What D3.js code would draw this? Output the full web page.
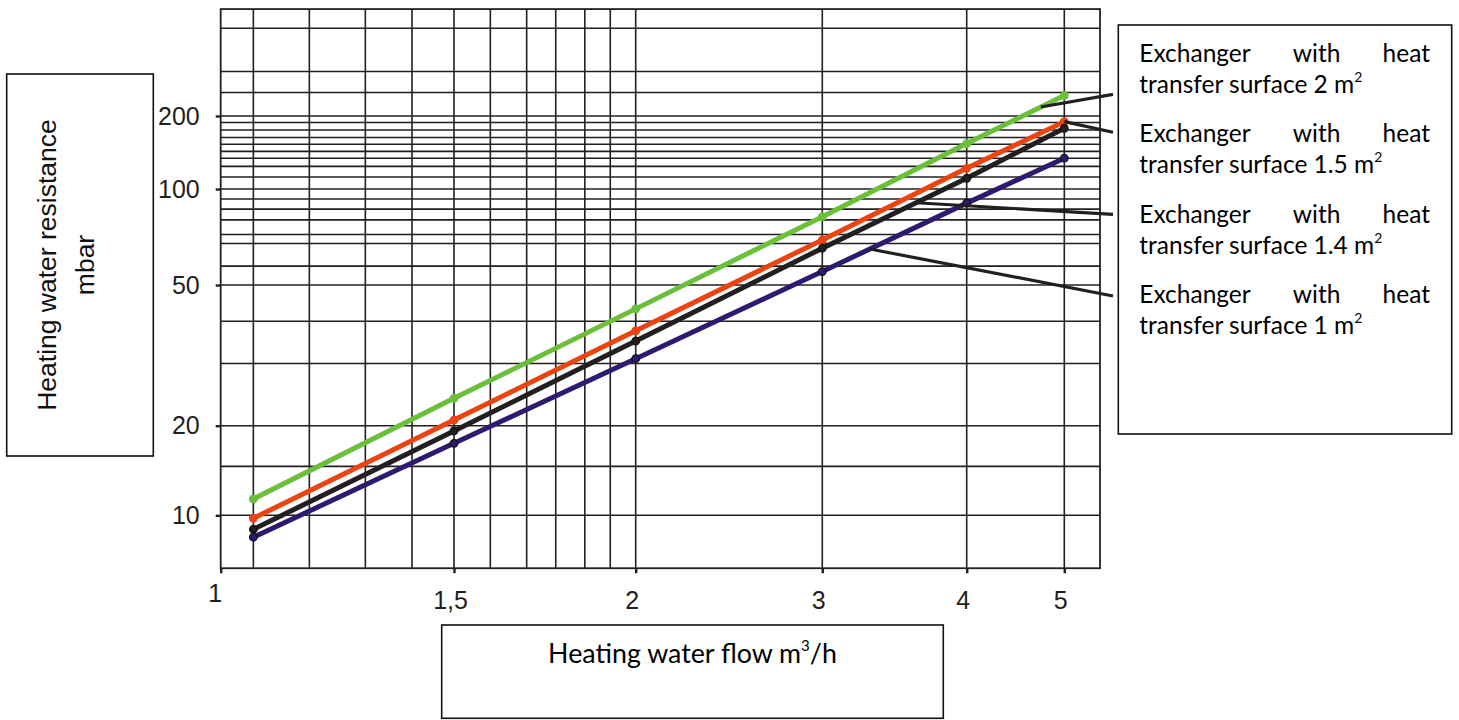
<!DOCTYPE html>
<html>
<head>
<meta charset="utf-8">
<script src="https://cdnjs.cloudflare.com/ajax/libs/d3/7.8.5/d3.min.js"></script>
<style>
    body { margin: 0; background: #fff; }
    .tick text { fill: #231f20; }
</style>
</head>
<body>
<div id="chart"></div>
<script>
// values (flow in m3/h, resistance in mbar)
var flow = [1.07, 1.5, 2, 3, 4, 5];
var surface2 = [11.35, 23.9, 42.8, 81.9, 154, 243];
var surface15 = [9.77, 20.75, 37.1, 69.2, 121.7, 189.5];
var surface14 = [8.97, 19.2, 34.7, 65.2, 110.7, 178];
var surface1 = [8.44, 17.45, 30.95, 55.1, 90.3, 134];

var seriesNames = ["2", "1.5", "1.4", "1"];
var seriesColors = ["#6bbf3a", "#ec4312", "#231f20", "#2e1a6e"];

// axes: the original paper is not a true log grid, so ticks are stops
var xTicks = [1, 1.5, 2, 3, 4, 5];
var xTickLabels = ["1", "1,5", "2", "3", "4", "5"];
var xMinor = [1.07, 1.19, 1.31, 1.41, 1.6, 1.7, 1.78, 1.86, 1.93];
var xMax = 5.366;

var yTicks = [10, 20, 50, 100, 200];
var yTickLabels = ["10", "20", "50", "100", "200"];
var yMinor = [14.6, 30, 39.5, 57.3, 67.5, 72, 80, 86.5, 93, 112, 124, 134, 143, 153, 163, 175, 188, 250, 305, 460];
var yMin = 6.64, yMax = 552;

// where each leader line leaves its curve (flow value)
var leaderFlow = [4.76, 5, 3.65, 3.33];

//---------------- layout -----------------------//
var width = 1459, height = 720;
var xStops = [220.7, 454, 635.7, 822.3, 966.7, 1064.3];
var yStops = [515.3, 425.7, 285, 189, 116];
var ink = "#231f20";

var legend = { x: 1118.3, y: 25, w: 333.4, h: 409, textLeft: 1139.3, textRight: 1430, row0: 61.7, rowStep: 80.5, lineStep: 31 };
var leaderEnd = { x: 1113, y: [94.3, 132.3, 214.3, 296] };

var svg = d3.select("#chart")
    .append("svg")
    .attr("width", width)
    .attr("height", height)

var x = d3.scaleLinear().domain(xTicks).range(xStops);
var y = d3.scaleLog().domain(yTicks).range(yStops);

var plotLeft = x(1), plotRight = x(xMax), plotTop = y(yMax), plotBottom = y(yMin);

// grid
var grid = svg.append("g").attr("class", "grid")
    .attr("stroke", ink)
    .attr("stroke-width", 1.6)

grid.selectAll("line.v")
    .data(xMinor.concat(xTicks.slice(1)))
    .enter().append("line")
    .attr("class", "v")
    .attr("x1", function(d) { return x(d) })
    .attr("x2", function(d) { return x(d) })
    .attr("y1", plotTop)
    .attr("y2", plotBottom)

grid.selectAll("line.h")
    .data(yMinor.concat(yTicks))
    .enter().append("line")
    .attr("class", "h")
    .attr("x1", plotLeft)
    .attr("x2", plotRight)
    .attr("y1", function(d) { return y(d) })
    .attr("y2", function(d) { return y(d) })

svg.append("rect")
    .attr("x", plotLeft)
    .attr("y", plotTop)
    .attr("width", plotRight - plotLeft)
    .attr("height", plotBottom - plotTop)
    .attr("fill", "none")
    .attr("stroke", ink)
    .attr("stroke-width", 1.8)

// axes
var xAxis = svg.append("g")
    .attr("transform", "translate(0," + plotBottom + ")")
    .call(d3.axisBottom(x).tickValues(xTicks).tickSize(5).tickPadding(18)
        .tickFormat(function(d, i) { return xTickLabels[i] }))

var yAxis = svg.append("g")
    .attr("transform", "translate(" + plotLeft + ",0)")
    .call(d3.axisLeft(y).tickValues(yTicks).tickSize(5).tickPadding(16)
        .tickFormat(function(d, i) { return yTickLabels[i] }))

;[xAxis, yAxis].forEach(function(ax) {
    ax.select(".domain").remove()
    ax.selectAll(".tick line").attr("stroke", ink).attr("stroke-width", 2.4)
    ax.selectAll(".tick text")
        .style("font-family", "'Liberation Sans', Arial, sans-serif")
        .style("font-size", "25px")
})
xAxis.selectAll(".tick text").attr("dx", "-4")
xAxis.selectAll(".tick text").filter(function(d) { return d == 1 }).attr("dy", "0.45em").attr("dx", "-6")

// curves
var series = [surface2, surface15, surface14, surface1];
var line = d3.line()
    .x(function(d) { return x(d[0]) })
    .y(function(d) { return y(d[1]) })

series.forEach(function(values, s) {
    var pts = flow.map(function(f, i) { return [f, values[i]] });
    var g = svg.append("g").attr("class", "series s" + s);
    g.append("path")
        .attr("d", line(pts))
        .attr("fill", "none")
        .attr("stroke", seriesColors[s])
        .attr("stroke-width", 5)
        .attr("stroke-linecap", "round")
    g.selectAll("circle")
        .data(pts)
        .enter().append("circle")
        .attr("cx", function(d) { return x(d[0]) })
        .attr("cy", function(d) { return y(d[1]) })
        .attr("r", 3.8)
        .attr("fill", seriesColors[s])
        .attr("stroke", s >= 2 ? "#111" : seriesColors[s])
        .attr("stroke-width", 1.2)
})

// pixel position on a curve for a given flow
function pointOn(values, f) {
    var k = Math.min(d3.bisectRight(flow, f) - 1, flow.length - 2);
    var t = (x(f) - x(flow[k])) / (x(flow[k + 1]) - x(flow[k]));
    return [x(f), y(values[k]) + t * (y(values[k + 1]) - y(values[k]))];
}

// leader lines
leaderFlow.forEach(function(f, s) {
    var p = pointOn(series[s], f);
    svg.append("line")
        .attr("x1", p[0])
        .attr("y1", p[1])
        .attr("x2", leaderEnd.x)
        .attr("y2", leaderEnd.y[s])
        .attr("stroke", ink)
        .attr("stroke-width", 3.2)
})

// legend box
var legendFont = "Lato, 'Open Sans', sans-serif";
svg.append("rect")
    .attr("x", legend.x).attr("y", legend.y)
    .attr("width", legend.w).attr("height", legend.h)
    .attr("fill", "#fff").attr("stroke", "#111").attr("stroke-width", 1.6)

seriesNames.forEach(function(name, i) {
    var by = legend.row0 + i * legend.rowStep;
    var g = svg.append("g")
        .style("font-family", legendFont)
        .style("font-size", "24.5px")
        .attr("fill", "#000")

    // first line is justified across the box
    var words = ["Exchanger", "with", "heat"];
    var nodes = words.map(function(w) {
        return g.append("text").attr("y", by).text(w)
    })
    var widths = nodes.map(function(n) { return n.node().getComputedTextLength() })
    var gap = (legend.textRight - legend.textLeft - d3.sum(widths)) / 2;
    nodes[0].attr("x", legend.textLeft)
    nodes[1].attr("x", legend.textLeft + widths[0] + gap)
    nodes[2].attr("x", legend.textRight).attr("text-anchor", "end")

    var t2 = g.append("text").attr("x", legend.textLeft).attr("y", by + legend.lineStep)
    t2.append("tspan").text("transfer surface " + name + " m")
    t2.append("tspan").attr("dy", -11).style("font-size", "14px").text("2")
})

// y title box
svg.append("rect")
    .attr("x", 6.7).attr("y", 74).attr("width", 146.6).attr("height", 382)
    .attr("fill", "none").attr("stroke", "#111").attr("stroke-width", 1.6)

var yTitle = svg.append("g")
    .attr("transform", "translate(0,265) rotate(-90)")
    .style("font-family", "'Liberation Sans', Arial, sans-serif")
    .style("font-size", "26.5px")
    .attr("fill", "#111")
    .attr("text-anchor", "middle")
yTitle.append("text").attr("x", 0).attr("y", 56).text("Heating water resistance")
yTitle.append("text").attr("x", 0).attr("y", 94).text("mbar")

// x title box
svg.append("rect")
    .attr("x", 441.7).attr("y", 625).attr("width", 501.6).attr("height", 93.3)
    .attr("fill", "none").attr("stroke", "#111").attr("stroke-width", 1.6)

var xTitle = svg.append("text")
    .attr("x", 692.5).attr("y", 663)
    .attr("text-anchor", "middle")
    .style("font-family", legendFont)
    .style("font-size", "26.8px")
    .attr("fill", "#000")
xTitle.append("tspan").text("Heating water flow m")
xTitle.append("tspan").attr("dy", -12).style("font-size", "15px").text("3")
xTitle.append("tspan").attr("dy", 12).text("/h")
</script>
</body>
</html>
